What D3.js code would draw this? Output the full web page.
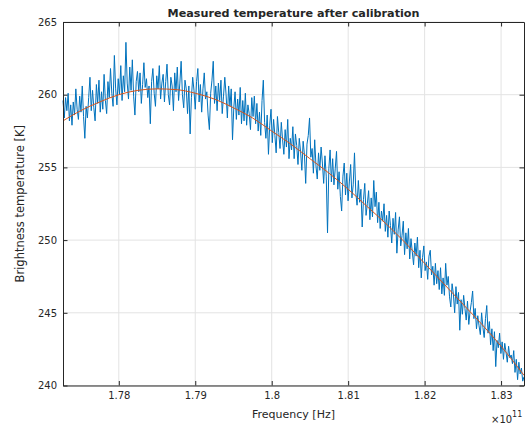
<!DOCTYPE html>
<html>
<head>
<meta charset="utf-8">
<script src="https://cdn.jsdelivr.net/npm/d3@7"></script>
<style>
  body { margin: 0; background: #fff; }
  svg text { font-family: "DejaVu Sans", sans-serif; fill: #262626; }
</style>
</head>
<body>
<div id="chart"></div>
<script>
// Frequenzbereich der Messung (Hz), gleichmaessig abgetastet
var freqStart = 1.7727e11
var freqEnd = 1.8330e11

// Gemessene Helligkeitstemperatur (K), blaue Kurve
var measured = [
  259.6, 258.4, 259.8, 258.9, 260.1, 258.2, 259.3, 257.9, 259.5, 258.6,
  260.4, 259.0, 258.3, 259.9, 258.8, 260.6, 258.5, 257.0, 259.2, 258.4,
  259.8, 261.2, 258.9, 260.3, 259.1, 258.2, 260.7, 259.4, 261.0, 258.8,
  260.2, 259.0, 261.4, 259.6, 258.7, 260.9, 259.8, 261.8, 260.1, 259.2,
  262.7, 260.4, 259.3, 261.1, 260.0, 262.0, 259.6, 261.3, 260.2, 263.6,
  260.8, 259.7, 261.9, 260.3, 262.4, 259.9, 258.6, 260.9, 261.6, 260.2,
  261.5, 259.4, 260.7, 262.2, 260.5, 261.1, 259.8, 260.6, 258.0, 260.9,
  261.8, 260.1, 259.2, 261.3, 260.4, 262.0, 259.7, 260.8, 261.4, 259.5,
  260.9, 262.1, 260.0, 259.3, 261.2, 260.6, 258.9, 261.5, 260.2, 261.9,
  259.6, 260.8, 262.3, 260.0, 259.1, 261.0, 260.4, 258.7, 260.6, 257.3,
  259.8, 261.2, 260.3, 259.0, 260.9, 261.8, 259.5, 260.7, 258.8, 260.4,
  261.5, 259.7, 260.2, 258.6, 257.6, 260.1, 261.0, 262.3, 259.4, 260.6,
  258.9, 260.8, 259.6, 261.0, 258.7, 259.9, 261.2, 260.0, 258.4, 260.6,
  259.2, 260.4, 256.9, 259.1, 260.2, 258.3, 259.7, 258.6, 260.5, 258.0,
  259.6, 258.2, 260.1, 257.9, 259.3, 258.7, 257.6, 259.8, 258.5, 259.9,
  258.0, 259.4, 257.5, 258.8, 257.2, 259.6, 261.0, 258.1, 257.0, 258.6,
  255.9, 257.9, 259.0, 256.7, 258.3, 257.2, 256.0, 258.5, 257.4, 256.3,
  258.1, 256.9, 255.9, 257.6, 256.4, 258.3, 255.6, 257.0, 256.2, 257.8,
  255.6, 257.3, 256.5, 255.2, 257.0, 256.1, 254.8, 256.8, 255.9, 253.9,
  256.6, 257.2, 258.4, 255.7, 256.3, 254.6, 256.9, 255.1, 254.2, 256.0,
  254.8, 256.4, 255.3, 253.9, 255.8, 254.4, 250.5, 254.9, 256.2, 254.0,
  255.6, 253.8, 254.9, 256.1, 253.5, 254.7, 253.0, 252.0, 254.4, 255.3,
  253.1, 254.6, 252.7, 254.0, 255.2, 252.9, 253.8, 256.0, 253.3, 252.4,
  254.1, 252.6, 253.5, 250.9, 252.8, 253.9, 251.7, 252.5, 253.4, 251.4,
  252.9, 251.6, 254.1, 252.3, 253.3, 251.2, 252.6, 250.8, 252.0, 251.3,
  252.5, 250.6, 251.7, 250.2, 252.0, 251.0, 249.8, 251.5, 250.4, 251.9,
  249.1, 250.7, 251.6, 249.6, 250.3, 251.3, 249.0, 250.5, 249.4, 250.8,
  248.7, 250.1, 249.2, 248.3, 249.8, 248.9, 250.2, 248.1, 249.3, 247.4,
  248.8, 249.6, 247.9, 248.5, 247.3, 248.9, 249.3, 247.6, 248.2, 246.9,
  248.4, 247.0, 247.9, 246.6, 248.1, 246.3, 247.4, 246.2, 248.4, 246.9,
  247.5, 246.1, 245.4, 247.0, 246.3, 245.0, 246.8, 245.6, 246.4, 243.8,
  245.9, 244.9, 246.2, 245.3, 244.5, 245.8, 244.2, 245.1, 245.7, 246.5,
  244.6, 245.3, 243.9, 244.8, 244.1, 243.5, 245.0, 244.0, 243.3, 244.6,
  245.5, 243.6, 244.4, 242.8, 243.9, 242.4, 243.7, 241.3, 243.1, 242.6,
  243.6, 242.2, 243.0, 241.8, 242.9, 242.3, 241.6, 242.7, 241.9, 242.1,
  241.5, 242.4, 240.9, 241.8, 240.4, 241.6, 240.8, 241.2, 240.3, 240.6
]

// Angepasste Kurve (rot), Stuetzstellen
var fitFreq = [1.7727, 1.7750, 1.7775, 1.7800, 1.7825, 1.7850, 1.7875, 1.7900, 1.7925,
               1.7950, 1.7975, 1.8000, 1.8025, 1.8050, 1.8075, 1.8100, 1.8125, 1.8150,
               1.8175, 1.8200, 1.8225, 1.8250, 1.8275, 1.8300, 1.8330]
var fitTemp = [258.2, 258.9, 259.5, 260.0, 260.3, 260.4, 260.35, 260.1, 259.7,
               259.1, 258.4, 257.5, 256.6, 255.6, 254.6, 253.5, 252.3, 251.1,
               249.8, 248.4, 247.0, 245.6, 244.2, 242.7, 240.7]

// Achsenticks
var xTicks = [1.78e11, 1.79e11, 1.80e11, 1.81e11, 1.82e11, 1.83e11]
var yTicks = [240, 245, 250, 255, 260, 265]

var width = 528
var height = 426
var margin = { top: 22, right: 4, bottom: 40.5, left: 63 }
var plotW = width - margin.left - margin.right
var plotH = height - margin.top - margin.bottom

var svg = d3.select("#chart").append("svg")
  .attr("width", width)
  .attr("height", height)

var x = d3.scaleLinear().domain([freqStart, freqEnd]).range([0, plotW])
var y = d3.scaleLinear().domain([240, 265]).range([plotH, 0])

var g = svg.append("g").attr("transform", "translate(" + margin.left + "," + margin.top + ")")

// Gitterlinien
g.append("g").selectAll("line").data(xTicks).enter().append("line")
  .attr("x1", function(d){ return x(d) }).attr("x2", function(d){ return x(d) })
  .attr("y1", 0).attr("y2", plotH)
  .attr("stroke", "#e3e3e3").attr("stroke-width", 1)
g.append("g").selectAll("line").data(yTicks).enter().append("line")
  .attr("x1", 0).attr("x2", plotW)
  .attr("y1", function(d){ return y(d) }).attr("y2", function(d){ return y(d) })
  .attr("stroke", "#e3e3e3").attr("stroke-width", 1)

// Messkurve
var n = measured.length
var sampleFreq = d3.range(n).map(function(i){ return freqStart + (freqEnd - freqStart) * i / (n - 1) })

g.append("path")
  .datum(measured)
  .attr("fill", "none")
  .attr("stroke", "#0072BD")
  .attr("stroke-width", 1)
  .attr("stroke-linejoin", "round")
  .attr("d", d3.line()
    .x(function(d, i){ return x(sampleFreq[i]) })
    .y(function(d){ return y(d) }))

// Fit
g.append("path")
  .datum(fitTemp)
  .attr("fill", "none")
  .attr("stroke", "#D95319")
  .attr("stroke-width", 1)
  .attr("d", d3.line()
    .curve(d3.curveMonotoneX)
    .x(function(d, i){ return x(fitFreq[i] * 1e11) })
    .y(function(d){ return y(d) }))

// Achsen (Ticks nach innen, wie MATLAB)
var fmtX = function(d){ return String(+(d / 1e11).toFixed(2)) }
var xAxis = d3.axisBottom(x).tickValues(xTicks).tickFormat(fmtX).tickSizeInner(-4.5).tickSizeOuter(0).tickPadding(6)
var xAxisTop = d3.axisTop(x).tickValues(xTicks).tickFormat("").tickSizeInner(-4.5).tickSizeOuter(0)
var yAxis = d3.axisLeft(y).tickValues(yTicks).tickSizeInner(-4.5).tickSizeOuter(0).tickPadding(6)
var yAxisRight = d3.axisRight(y).tickValues(yTicks).tickFormat("").tickSizeInner(-4.5).tickSizeOuter(0)

function styleAxis(sel){
  sel.select(".domain").attr("stroke", "#262626")
  sel.selectAll(".tick line").attr("stroke", "#262626")
  sel.selectAll("text").style("font-size", "10px").attr("fill", "#262626")
    .style("font-family", "DejaVu Sans, sans-serif")
}

g.append("g").attr("transform", "translate(0," + plotH + ")").call(xAxis).call(styleAxis)
g.append("g").call(xAxisTop).call(styleAxis)
g.append("g").call(yAxis).call(styleAxis)
g.append("g").attr("transform", "translate(" + plotW + ",0)").call(yAxisRight).call(styleAxis)

// Titel und Beschriftungen
svg.append("text")
  .attr("x", margin.left + plotW / 2).attr("y", 17)
  .attr("text-anchor", "middle")
  .style("font-size", "11.2px").style("font-weight", "bold")
  .attr("fill", "#000")
  .text("Measured temperature after calibration")

svg.append("text")
  .attr("x", margin.left + plotW / 2).attr("y", 418)
  .attr("text-anchor", "middle")
  .style("font-size", "11px")
  .text("Frequency [Hz]")

svg.append("text")
  .attr("transform", "translate(24," + (margin.top + plotH / 2) + ") rotate(-90)")
  .attr("text-anchor", "middle")
  .style("font-size", "11.5px")
  .text("Brightness temperature [K]")

var expo = svg.append("text").attr("x", 491).attr("y", 423).style("font-size", "10px")
expo.append("tspan").text("\u00d710")
expo.append("tspan").attr("dy", -6).style("font-size", "8px").text("11")
</script>
</body>
</html>
